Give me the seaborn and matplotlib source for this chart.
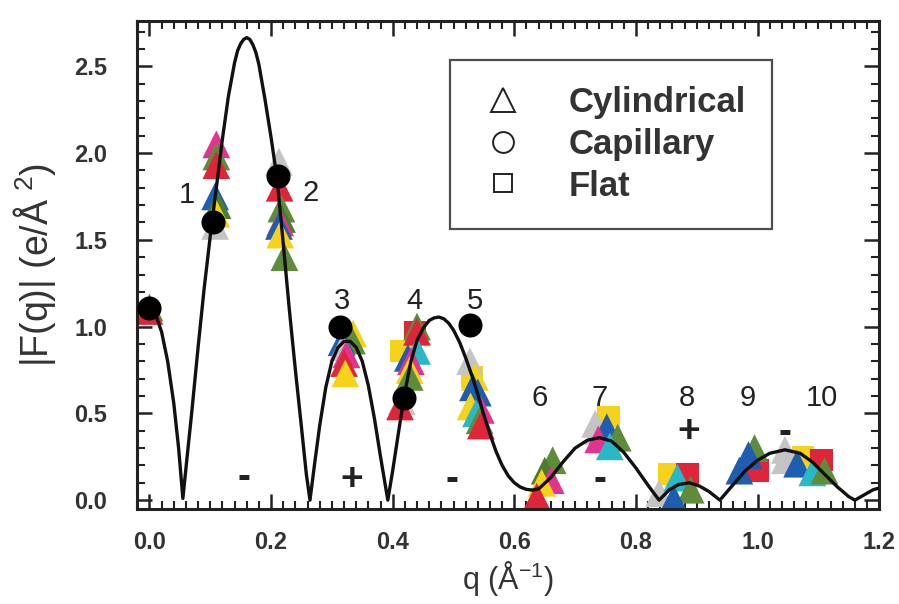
import numpy as np
import pandas as pd
import matplotlib
matplotlib.use("Agg")
import matplotlib.pyplot as plt
from matplotlib.lines import Line2D
from matplotlib.ticker import MultipleLocator
import seaborn as sns

# ---------------- data ----------------
curve_q = [0.000, 0.010, 0.020, 0.030, 0.040, 0.048, 0.055, 0.062, 0.070, 0.080,
           0.090, 0.100, 0.110, 0.120, 0.130, 0.140, 0.145, 0.150, 0.155, 0.160,
           0.165, 0.170, 0.175, 0.180, 0.190, 0.200, 0.210, 0.220, 0.230, 0.240,
           0.250, 0.258, 0.264, 0.272, 0.280, 0.290, 0.300, 0.310, 0.320, 0.330,
           0.340, 0.350, 0.360, 0.370, 0.380, 0.392, 0.400, 0.410, 0.420, 0.430,
           0.440, 0.450, 0.460, 0.468, 0.476, 0.484, 0.492, 0.500, 0.510, 0.520,
           0.530, 0.540, 0.550, 0.560, 0.570, 0.580, 0.590, 0.600, 0.610, 0.620,
           0.630, 0.640, 0.660, 0.680, 0.700, 0.720, 0.740, 0.760, 0.780, 0.800,
           0.820, 0.838, 0.855, 0.870, 0.888, 0.905, 0.920, 0.938, 0.960, 0.980,
           1.000, 1.020, 1.045, 1.070, 1.090, 1.110, 1.130, 1.150, 1.160, 1.175,
           1.190, 1.200]
curve_F = [1.10, 1.07, 0.97, 0.80, 0.56, 0.30, 0.01, 0.25, 0.52, 0.88,
           1.22, 1.52, 1.80, 2.08, 2.33, 2.52, 2.59, 2.63, 2.655, 2.665,
           2.655, 2.625, 2.58, 2.51, 2.31, 2.09, 1.85, 1.48, 1.10, 0.75,
           0.42, 0.15, 0.00, 0.22, 0.43, 0.65, 0.80, 0.88, 0.915, 0.915,
           0.88, 0.80, 0.66, 0.47, 0.25, 0.00, 0.17, 0.40, 0.62, 0.80,
           0.92, 0.99, 1.035, 1.05, 1.055, 1.045, 1.02, 0.98, 0.91, 0.82,
           0.72, 0.61, 0.49, 0.38, 0.28, 0.20, 0.14, 0.10, 0.075, 0.062,
           0.058, 0.065, 0.13, 0.22, 0.30, 0.345, 0.36, 0.34, 0.275, 0.185,
           0.085, 0.00, 0.06, 0.09, 0.10, 0.08, 0.05, 0.00, 0.09, 0.17,
           0.23, 0.27, 0.29, 0.27, 0.22, 0.15, 0.08, 0.02, 0.00, 0.03,
           0.06, 0.07]

# Cylindrical cells (triangles)
cyl_q = [0.000, 0.000,
         0.110, 0.110, 0.110, 0.108, 0.112, 0.110, 0.108,
         0.213, 0.214, 0.217, 0.218, 0.215, 0.213, 0.215, 0.222,
         0.335, 0.333, 0.316, 0.318, 0.324, 0.320, 0.322,
         0.440, 0.440, 0.425, 0.440, 0.430, 0.428, 0.428, 0.415, 0.412,
         0.527, 0.535, 0.532, 0.540, 0.528, 0.545, 0.537, 0.543, 0.545,
         0.663, 0.650, 0.660, 0.645, 0.637,
         0.733, 0.738, 0.752, 0.738, 0.770, 0.757,
         0.838, 0.868, 0.890, 0.862,
         0.970, 0.995, 0.985,
         1.045, 1.045, 1.065, 1.090, 1.110]
cyl_F = [1.11, 1.09,
         2.05, 1.98, 1.93, 1.75, 1.70, 1.65, 1.58,
         1.95, 1.80, 1.68, 1.62, 1.60, 1.58, 1.53, 1.40,
         0.96, 0.92, 0.91, 0.88, 0.84, 0.79, 0.73,
         1.00, 0.97, 0.82, 0.86, 0.80, 0.75, 0.71, 0.57, 0.54,
         0.80, 0.71, 0.65, 0.62, 0.54, 0.52, 0.50, 0.46, 0.43,
         0.23, 0.17, 0.115, 0.10, 0.02,
         0.44, 0.40, 0.42, 0.35, 0.36, 0.31,
         0.04, 0.13, 0.06, 0.01,
         0.17, 0.30, 0.26,
         0.29, 0.23, 0.21, 0.16, 0.17]
cyl_sample = ["green", "red",
              "magenta", "green", "red", "blue", "dgreen", "yellow", "gray",
              "gray", "red", "green", "dgreen", "magenta", "blue", "yellow", "green",
              "yellow", "green", "blue", "gray", "magenta", "red", "yellow",
              "green", "red", "blue", "cyan", "magenta", "yellow", "green", "gray", "red",
              "gray", "yellow", "blue", "blue", "yellow", "magenta", "cyan", "green", "red",
              "green", "dgreen", "magenta", "yellow", "red",
              "gray", "gray", "blue", "magenta", "green", "cyan",
              "gray", "cyan", "green", "blue",
              "blue", "green", "blue",
              "gray", "gray", "blue", "cyan", "green"]

# Flat cells (squares)
flat_q = [0.437, 0.414, 0.530, 0.755, 0.855, 0.885, 1.000, 1.075, 1.105]
flat_F = [0.97, 0.86, 0.71, 0.48, 0.15, 0.15, 0.17, 0.25, 0.23]
flat_sample = ["red", "yellow", "yellow", "yellow", "yellow", "red", "red", "yellow", "red"]

# Capillary (filled circles)
cap_q = [0.000, 0.105, 0.211, 0.314, 0.418, 0.527]
cap_F = [1.11, 1.60, 1.87, 1.00, 0.59, 1.01]

# Peak labels
peak_labels = ["1", "2", "3", "4", "5", "6", "7", "8", "9", "10"]
peak_q = [0.061, 0.265, 0.316, 0.436, 0.535, 0.642, 0.741, 0.884, 0.984, 1.106]
peak_F = [1.76, 1.77, 1.15, 1.15, 1.15, 0.59, 0.59, 0.59, 0.59, 0.59]

# Phase signs
sign_labels = ["-", "+", "-", "-", "+", "-"]
sign_q = [0.156, 0.333, 0.497, 0.741, 0.886, 1.045]
sign_F = [0.127, 0.115, 0.115, 0.115, 0.39, 0.385]

palette = {"magenta": "#E2348F", "red": "#E0243A", "green": "#5E8C3B",
           "dgreen": "#4C7C2E", "blue": "#1F5DB0", "yellow": "#F6D21B",
           "gray": "#C4C4C4", "cyan": "#2BB8C6"}

# ---------------- plot ----------------
sns.set_theme(style="ticks")
plt.rcParams["font.family"] = ["Liberation Sans", "DejaVu Sans"]
plt.rcParams["mathtext.fontset"] = "custom"
plt.rcParams["mathtext.rm"] = "Liberation Sans"

fig = plt.figure(figsize=(8.99, 6.04), dpi=100)
ax = fig.add_axes([0.152, 0.157, 0.826, 0.808])

cyl_df = pd.DataFrame({"q": cyl_q, "F": cyl_F, "sample": cyl_sample})
flat_df = pd.DataFrame({"q": flat_q, "F": flat_F, "sample": flat_sample})
cap_df = pd.DataFrame({"q": cap_q, "F": cap_F})
curve_df = pd.DataFrame({"q": curve_q, "F": curve_F})

sns.scatterplot(data=flat_df, x="q", y="F", hue="sample", palette=palette,
                marker="s", s=260, linewidth=0, legend=False, ax=ax, zorder=2)
sns.scatterplot(data=cyl_df, x="q", y="F", hue="sample", palette=palette,
                marker="^", s=400, linewidth=0, legend=False, ax=ax, zorder=2)
sns.lineplot(data=curve_df, x="q", y="F", color="#111111", linewidth=2.4,
             sort=False, estimator=None, ax=ax, zorder=3)
sns.scatterplot(data=cap_df, x="q", y="F", color="black", marker="o", s=300,
                linewidth=0, legend=False, ax=ax, zorder=4)

for t, xq, yf in zip(peak_labels, peak_q, peak_F):
    ax.text(xq, yf, t, ha="center", va="center", fontsize=21, color="#222222", zorder=5)
for t, xq, yf in zip(sign_labels, sign_q, sign_F):
    ax.text(xq, yf, t, ha="center", va="center", fontsize=28, fontweight="bold",
            color="#222222", zorder=5)

ax.set_xlim(-0.021, 1.2)
ax.set_ylim(-0.052, 2.76)
ax.set_xticks([0.0, 0.2, 0.4, 0.6, 0.8, 1.0, 1.2])
ax.set_xticklabels(["0.0", "0.2", "0.4", "0.6", "0.8", "1.0", "1.2"])
ax.set_yticks([0.0, 0.5, 1.0, 1.5, 2.0, 2.5])
ax.set_yticklabels(["0.0", "0.5", "1.0", "1.5", "2.0", "2.5"])
ax.xaxis.set_minor_locator(MultipleLocator(0.02))
ax.yaxis.set_minor_locator(MultipleLocator(0.1))
ax.set_xlim(-0.021, 1.2)
ax.set_ylim(-0.052, 2.76)

ax.tick_params(which="both", direction="in", top=True, right=True, color="#222222")
ax.tick_params(which="major", length=11, width=1.8, labelsize=17)
ax.tick_params(axis="x", which="major", pad=16)
ax.tick_params(axis="y", which="major", pad=21)
ax.tick_params(which="minor", length=6, width=1.5)
for lab in ax.get_xticklabels() + ax.get_yticklabels():
    lab.set_fontweight("bold")
    lab.set_color("#333333")
for sp in ax.spines.values():
    sp.set_linewidth(2.2)
    sp.set_color("#222222")

ax.set_xlabel("q (Å$^{-1}$)", fontsize=22, color="#333333", labelpad=3)
ax.set_ylabel("|F(q)| (e/Å$^{\\ 2}$)", fontsize=27, color="#333333", labelpad=12)

handles = [Line2D([], [], marker="^", linestyle="none", markersize=17,
                  markerfacecolor="white", markeredgecolor="#222222", markeredgewidth=1.4),
           Line2D([], [], marker="o", linestyle="none", markersize=15,
                  markerfacecolor="white", markeredgecolor="#222222", markeredgewidth=1.4),
           Line2D([], [], marker="s", linestyle="none", markersize=13,
                  markerfacecolor="white", markeredgecolor="#222222", markeredgewidth=1.4)]
leg = ax.legend(handles, ["Cylindrical", "Capillary", "Flat"], loc="upper left",
                bbox_to_anchor=(0.422, 0.92), frameon=True, fancybox=False,
                prop={"size": 25, "weight": "bold"},
                edgecolor="#222222", borderpad=0.75, labelspacing=0.25,
                handletextpad=1.1, borderaxespad=0.0, handlelength=1.56)
leg.get_frame().set_linewidth(1.6)
for txt in leg.get_texts():
    txt.set_color("#333333")

fig.savefig("out.png", dpi=100)
